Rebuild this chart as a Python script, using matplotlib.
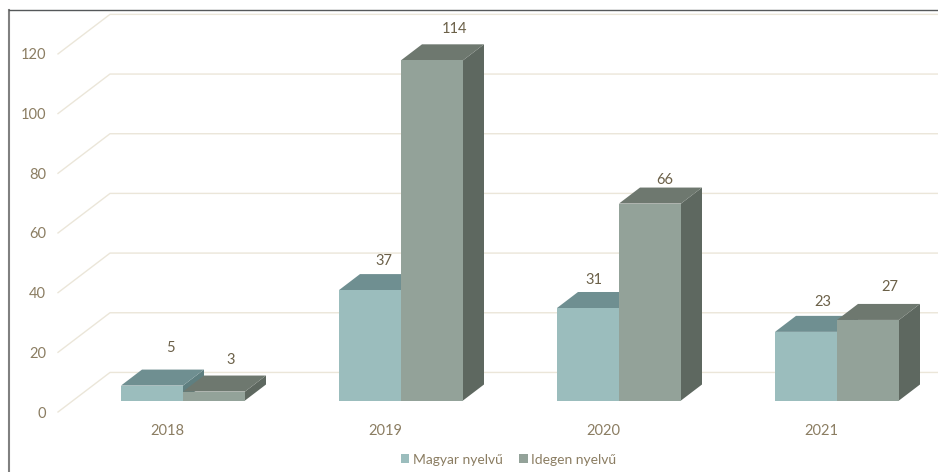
import matplotlib
matplotlib.use("Agg")
import matplotlib.pyplot as plt
from matplotlib.lines import Line2D
from matplotlib.patches import Patch, Polygon

plt.rcParams['font.family'] = ['Lato', 'DejaVu Sans']

# --- data ---
years = ['2018', '2019', '2020', '2021']
magyar = [5, 37, 31, 23]
idegen = [3, 114, 66, 27]
y_ticks = [0, 20, 40, 60, 80, 100, 120]

# --- style / layout ---
W, H = 938, 472
PX_PER_UNIT = 2.984
BASE_PX = 400.5
STEP_PX = 218.0
FIRST_TICK_PX = 167.0
AX_L, AX_R, AX_B, AX_T = 58, 938, 412, 10
BAR_W_PX = 62
BAR_SHIFT_PX = 16
DX, DY = 21, 16
WALL_DX, WALL_DY = 52, 40
TXT = '#8b7d62'
LBL = '#6b6048'
GRID = '#ebe6d9'
C_M = dict(front='#9bbdbd', top='#6f8f91', side='#5f7f80')
C_I = dict(front='#93a299', top='#6e786f', side='#5e6860')
# label offset above the front top of each bar, and horizontal offset from the bar's left, px
LABEL_OFF_M = [(49, 38), (45, 29), (37, 28), (48, 30)]
LABEL_OFF_I = [(48, 32), (53, 31), (46, 24), (53, 33)]

fig = plt.figure(figsize=(W / 100, H / 100), dpi=100, facecolor='white')
ax = fig.add_axes([AX_L / W, 1 - AX_B / H, (AX_R - AX_L) / W, (AX_B - AX_T) / H])
ax.set_xlim((AX_L - FIRST_TICK_PX) / STEP_PX, (AX_R - FIRST_TICK_PX) / STEP_PX)
ax.set_ylim((BASE_PX - AX_B) / PX_PER_UNIT, (BASE_PX - AX_T) / PX_PER_UNIT)
ax.patch.set_visible(False)
for s in ax.spines.values():
    s.set_visible(False)

ux = 1 / STEP_PX
uy = 1 / PX_PER_UNIT
front_zero = (BASE_PX - AX_B) / PX_PER_UNIT

# ticks sit on the front edge of the floor
ax.set_xticks(range(len(years)), years)
ax.set_yticks([front_zero + v for v in y_ticks], [str(v) for v in y_ticks])
ax.tick_params(axis='both', length=0, colors=TXT, labelsize=10.5)
ax.tick_params(axis='y', pad=8.5)
ax.tick_params(axis='x', pad=8.5)

# wall gridlines
x0 = ax.get_xlim()[0]
x1 = ax.get_xlim()[1]
for v in y_ticks:
    y = front_zero + v
    ax.plot([x0, x0 + WALL_DX * ux, x1], [y, y + WALL_DY * uy - 0.15, y + WALL_DY * uy - 0.15],
            color=GRID, lw=1.0, zorder=1, clip_on=False)


def bar3d(xl, val, c, z):
    w = BAR_W_PX * ux
    dx = DX * ux
    dy = DY * uy
    ax.add_patch(Polygon([(xl + w, 0), (xl + w + dx, dy), (xl + w + dx, val + dy), (xl + w, val)],
                         fc=c['side'], ec='none', zorder=z))
    ax.add_patch(Polygon([(xl, val), (xl + dx, val + dy), (xl + w + dx, val + dy), (xl + w, val)],
                         fc=c['top'], ec='none', zorder=z))
    ax.add_patch(Polygon([(xl, 0), (xl + w, 0), (xl + w, val), (xl, val)],
                         fc=c['front'], ec='none', zorder=z))


for i, (m, d) in enumerate(zip(magyar, idegen)):
    mid = i + BAR_SHIFT_PX * ux
    xm = mid - BAR_W_PX * ux
    bar3d(xm, m, C_M, 3 + i * 0.1)
    bar3d(mid, d, C_I, 3.05 + i * 0.1)
    for xl, v, off in ((xm, m, LABEL_OFF_M[i]), (mid, d, LABEL_OFF_I[i])):
        ax.annotate(str(v), xy=(xl, v), xytext=(off[0] * 0.72, off[1] * 0.72),
                    textcoords='offset points', ha='center', va='center',
                    color=LBL, fontsize=10.5, zorder=6, annotation_clip=False)

# legend
handles = [Patch(fc=C_M['front'], label='Magyar nyelvű'), Patch(fc=C_I['front'], label='Idegen nyelvű')]
fig.legend(handles=handles, ncol=2, loc='center', bbox_to_anchor=(508.5 / W, 1 - 459.5 / H), frameon=False,
           fontsize=10, labelcolor=TXT, handlelength=0.6, handleheight=0.6, handletextpad=0.25,
           columnspacing=1.2, borderpad=0, borderaxespad=0)

# picture frame
fig.add_artist(Line2D([9 / W, 9 / W], [0, 1 - 9.5 / H], color='#808080', lw=1.5))
fig.add_artist(Line2D([9 / W, 1], [1 - 9.5 / H, 1 - 9.5 / H], color='#55585a', lw=1.0))

fig.savefig('out.png', dpi=100)
